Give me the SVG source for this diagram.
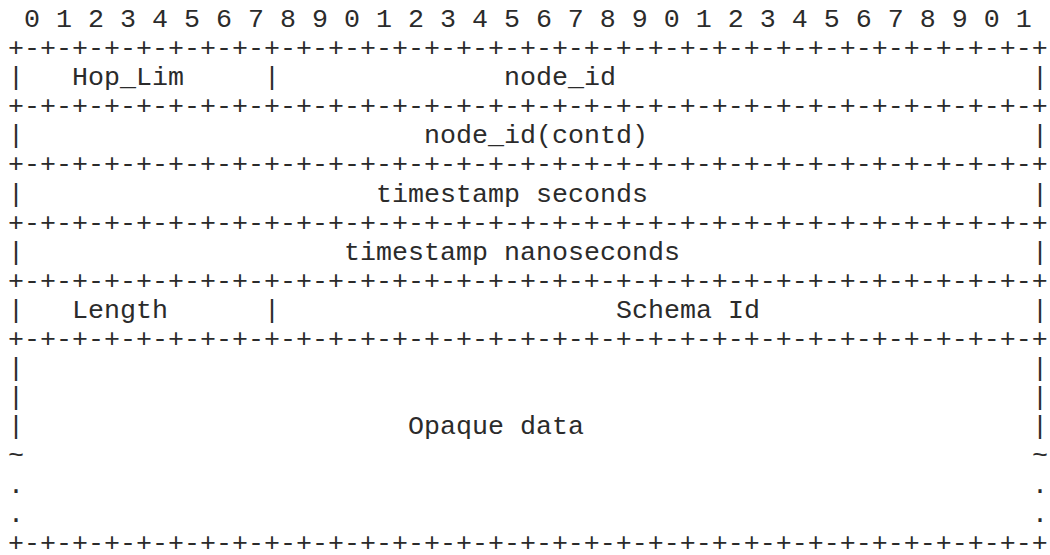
<svg xmlns="http://www.w3.org/2000/svg" width="1050" height="555" viewBox="0 0 1050 555">
<style>
.t{font-family:"Liberation Mono","DejaVu Sans Mono",monospace;font-size:26.667px;fill:#2b2b2b;white-space:pre}
</style>
<rect width="1050" height="555" fill="#ffffff"/>
<g id="header"><text class="t" x="8" y="27" xml:space="preserve"> 0 1 2 3 4 5 6 7 8 9 0 1 2 3 4 5 6 7 8 9 0 1 2 3 4 5 6 7 8 9 0 1</text></g>
<g id="borders">
<text class="t" x="8" y="56">+-+-+-+-+-+-+-+-+-+-+-+-+-+-+-+-+-+-+-+-+-+-+-+-+-+-+-+-+-+-+-+-+</text>
<text class="t" x="8" y="114.2">+-+-+-+-+-+-+-+-+-+-+-+-+-+-+-+-+-+-+-+-+-+-+-+-+-+-+-+-+-+-+-+-+</text>
<text class="t" x="8" y="172.4">+-+-+-+-+-+-+-+-+-+-+-+-+-+-+-+-+-+-+-+-+-+-+-+-+-+-+-+-+-+-+-+-+</text>
<text class="t" x="8" y="230.6">+-+-+-+-+-+-+-+-+-+-+-+-+-+-+-+-+-+-+-+-+-+-+-+-+-+-+-+-+-+-+-+-+</text>
<text class="t" x="8" y="288.8">+-+-+-+-+-+-+-+-+-+-+-+-+-+-+-+-+-+-+-+-+-+-+-+-+-+-+-+-+-+-+-+-+</text>
<text class="t" x="8" y="347">+-+-+-+-+-+-+-+-+-+-+-+-+-+-+-+-+-+-+-+-+-+-+-+-+-+-+-+-+-+-+-+-+</text>
<text class="t" x="8" y="550.6">+-+-+-+-+-+-+-+-+-+-+-+-+-+-+-+-+-+-+-+-+-+-+-+-+-+-+-+-+-+-+-+-+</text>
</g>
<g id="row-hoplim">
<text class="t" x="8" y="85.1">|</text><text class="t" x="72" y="85.1">Hop_Lim</text><text class="t" x="264" y="85.1">|</text><text class="t" x="504" y="85.1">node_id</text><text class="t" x="1032" y="85.1">|</text>
</g>
<g id="row-nodeid-contd">
<text class="t" x="8" y="143.3">|</text><text class="t" x="424" y="143.3">node_id(contd)</text><text class="t" x="1032" y="143.3">|</text>
</g>
<g id="row-ts-sec">
<text class="t" x="8" y="201.5">|</text><text class="t" x="376" y="201.5">timestamp seconds</text><text class="t" x="1032" y="201.5">|</text>
</g>
<g id="row-ts-nsec">
<text class="t" x="8" y="259.7">|</text><text class="t" x="344" y="259.7">timestamp nanoseconds</text><text class="t" x="1032" y="259.7">|</text>
</g>
<g id="row-length">
<text class="t" x="8" y="317.9">|</text><text class="t" x="72" y="317.9">Length</text><text class="t" x="264" y="317.9">|</text><text class="t" x="616" y="317.9">Schema Id</text><text class="t" x="1032" y="317.9">|</text>
</g>
<g id="row-opaque">
<text class="t" x="8" y="376.1">|</text><text class="t" x="1032" y="376.1">|</text>
<text class="t" x="8" y="405.2">|</text><text class="t" x="1032" y="405.2">|</text>
<text class="t" x="8" y="434.3">|</text><text class="t" x="408" y="434.3">Opaque data</text><text class="t" x="1032" y="434.3">|</text>
<text class="t" x="8" y="463.4">~</text><text class="t" x="1032" y="463.4">~</text>
<text class="t" x="8" y="492.5">.</text><text class="t" x="1032" y="492.5">.</text>
<text class="t" x="8" y="521.6">.</text><text class="t" x="1032" y="521.6">.</text>
</g>
</svg>
